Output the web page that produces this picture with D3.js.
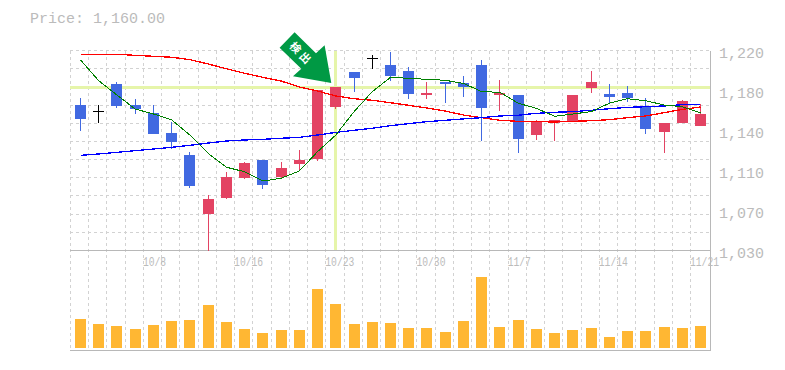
<!DOCTYPE html>
<html>
<head>
<meta charset="utf-8">
<script src="https://cdn.jsdelivr.net/npm/d3@7"></script>
<style>
  body { margin: 0; background: #fff; }
  text { font-family: "Liberation Mono", monospace; fill: #bbb; }
</style>
</head>
<body>
<div id="chart"></div>
<script>
var dates = ["10/1","10/2","10/3","10/4","10/8","10/9","10/10","10/11","10/15","10/16","10/17","10/18","10/21","10/22","10/23","10/24","10/25","10/28","10/29","10/30","10/31","11/1","11/5","11/6","11/7","11/8","11/11","11/12","11/13","11/14","11/15","11/18","11/19","11/20","11/21"];

var opens  = [1168.2,1162.2,1188.2,1168.2,1160.6,1141.6,1120.7,1064.7,1079.9,1098.9,1116,1099.8,1112.2,1116.9,1166.6,1199.6,1212.9,1206.2,1200.5,1177.7,1190.1,1189.1,1206.2,1177.7,1177.7,1139.7,1151.1,1152.1,1184.4,1178.7,1179.6,1166.3,1142.6,1151.1,1148.3];
var highs  = [1174.9,1167.8,1190.1,1173.9,1168.2,1152.1,1123.6,1082.7,1104.6,1114.1,1116,1114.1,1125.5,1182.5,1185.3,1199.6,1215.7,1218.6,1204.3,1190.1,1190.1,1195.8,1211,1192,1177.7,1154,1154,1177.7,1200.5,1188.2,1186.3,1174.9,1151.1,1173,1169.2];
var lows   = [1143.8,1150.9,1165.7,1160,1140.7,1126.7,1089.4,1030,1078.9,1097.9,1088.4,1097.9,1105.5,1115,1164.4,1180.6,1202.4,1191,1173.9,1173.9,1170.1,1175.8,1134,1162.5,1122.6,1135,1134,1152.1,1179.6,1169.2,1171,1140.7,1122.6,1151.1,1148.3];
var closes = [1154.9,1162.2,1167.6,1164.4,1140.7,1133.1,1091.3,1078.9,1099.8,1113.1,1092.2,1108.4,1116,1182.5,1185.3,1193.9,1212.9,1195.8,1178.7,1179.6,1188.2,1185.3,1165.4,1179.6,1135.9,1152.1,1154,1177.7,1190.1,1175.8,1174.9,1145.4,1151.1,1172,1160];

var maShort = [1211,1191.3,1177.7,1164.4,1159.7,1154,1139.7,1122.3,1109.1,1104.8,1096,1098.6,1105.5,1123.9,1139.7,1161.9,1180.9,1194.5,1193.6,1192.6,1191.7,1188.8,1180.9,1180.3,1169.9,1165.1,1157.5,1159.7,1161.9,1169.9,1174.2,1172.3,1168.2,1166.6,1160.9];
var maMid = [1216.4,1216.4,1216.4,1215.4,1214.5,1213.6,1211.3,1207.2,1202.7,1198.4,1194.5,1191,1185.3,1181.5,1176.8,1174.2,1172.7,1170.4,1167.9,1165.4,1162.5,1158.7,1156.2,1153.7,1152.7,1152.4,1152.1,1152.7,1153.3,1154.3,1156.2,1157.8,1160.9,1164.1,1166.3];
var maLong = [1120.4,1121.7,1123.3,1124.8,1126.4,1128,1129.9,1132.1,1134,1135,1135.6,1136.6,1137.5,1139.7,1142.2,1144.2,1146.1,1148.6,1150.5,1152.4,1153.7,1155,1156.2,1157.8,1158.5,1160.3,1161.3,1161.9,1163.2,1164.7,1166,1166.6,1167.3,1168.5,1168.9];

var volume = [29,24,22,19,23,27,28,43,26,19,15,18,18,59,44,24,26,25,20,20,16,27,71,21,28,19,15,18,20,11,17,17,21,20,22];

var priceTicks = [1220,1182,1144,1106,1068,1030];
var priceTickLabels = ["1,220","1,180","1,140","1,110","1,070","1,030"];
var dateTicks = ["10/8","10/16","10/23","10/30","11/7","11/14","11/21"];
var markDate = "10/23";
var markPrice = 1185.3;
var title = "Price: 1,160.00";

var width = 785, height = 370;
var plotLeft = 70, plotRight = 710, plotTop = 50.5, plotMid = 250.5, plotBottom = 350.5;

var svg = d3.select("#chart").append("svg")
    .attr("width", width)
    .attr("height", height)
    .style("display", "block");

var x = d3.scalePoint().domain(dates).range([80.5, 700.5]);
var y = d3.scaleLinear().domain([1030, 1220]).range([plotMid, plotTop]);
var yVol = d3.scaleLinear().domain([0, d3.max(volume)]).range([348, 277]);

// grid, 11 cells in the price panel, one line per candle
var grid = svg.append("g")
    .attr("stroke", "#d2d2d2")
    .attr("stroke-dasharray", "3,3")
    .attr("shape-rendering", "crispEdges");

grid.selectAll("line.h").data(d3.range(0, 11))
  .enter().append("line")
    .attr("class", "h")
    .attr("x1", plotLeft).attr("x2", plotRight)
    .attr("y1", function(d) { return Math.floor(plotTop + d * (plotMid - plotTop) / 11) + 0.5; })
    .attr("y2", function(d) { return Math.floor(plotTop + d * (plotMid - plotTop) / 11) + 0.5; });

grid.selectAll("line.v").data(dates)
  .enter().append("line")
    .attr("class", "v")
    .attr("x1", function(d) { return Math.floor(x(d) - 10) + 0.5; })
    .attr("x2", function(d) { return Math.floor(x(d) - 10) + 0.5; })
    .attr("y1", plotTop).attr("y2", plotBottom);

var frame = svg.append("g")
    .attr("stroke", "#b8b8b8")
    .attr("stroke-width", 1)
    .attr("shape-rendering", "crispEdges");
frame.append("line").attr("x1", plotLeft).attr("x2", plotRight).attr("y1", plotMid).attr("y2", plotMid);
frame.append("line").attr("x1", plotLeft).attr("x2", plotRight).attr("y1", plotBottom).attr("y2", plotBottom);
frame.append("line").attr("x1", plotRight).attr("x2", plotRight).attr("y1", plotTop).attr("y2", plotBottom);

// highlighted price and date
svg.append("line")
    .attr("x1", plotLeft).attr("x2", plotRight)
    .attr("y1", y(markPrice)).attr("y2", y(markPrice))
    .attr("stroke", "#e6f5aa").attr("stroke-width", 3)
    .attr("shape-rendering", "crispEdges");
svg.append("line")
    .attr("x1", Math.floor(x(markDate)) + 0.5).attr("x2", Math.floor(x(markDate)) + 0.5)
    .attr("y1", plotTop).attr("y2", plotMid - 1)
    .attr("stroke", "#e6f5aa").attr("stroke-width", 3)
    .attr("shape-rendering", "crispEdges");

// volume
svg.append("g").selectAll("rect").data(volume)
  .enter().append("rect")
    .attr("x", function(d, i) { return Math.floor(x(dates[i])) - 5; })
    .attr("width", 11)
    .attr("y", function(d) { return yVol(d); })
    .attr("height", function(d) { return yVol(0) - yVol(d); })
    .attr("fill", "#ffb733")
    .attr("shape-rendering", "crispEdges");

function candleColor(i) {
    if (opens[i] === closes[i]) return "#000";
    return closes[i] > opens[i] ? "#e34363" : "#4169e1";
}

var candles = svg.append("g")
    .attr("shape-rendering", "crispEdges");

candles.selectAll("line").data(dates)
  .enter().append("line")
    .attr("x1", function(d) { return Math.floor(x(d)) + 0.5; })
    .attr("x2", function(d) { return Math.floor(x(d)) + 0.5; })
    .attr("y1", function(d, i) { return y(highs[i]); })
    .attr("y2", function(d, i) { return y(lows[i]); })
    .attr("stroke", function(d, i) { return candleColor(i); })
    .attr("stroke-width", 1);

candles.selectAll("rect").data(dates)
  .enter().append("rect")
    .attr("x", function(d) { return Math.floor(x(d)) - 5; })
    .attr("width", 11)
    .attr("y", function(d, i) { return y(Math.max(opens[i], closes[i])); })
    .attr("height", function(d, i) { return Math.max(1, Math.abs(y(opens[i]) - y(closes[i]))); })
    .attr("fill", function(d, i) { return candleColor(i); });

// moving averages
var line = d3.line()
    .x(function(d, i) { return x(dates[i]); })
    .y(function(d) { return y(d); });

svg.append("path").attr("class", "red line")
    .attr("d", line(maMid))
    .attr("fill", "none").attr("stroke", "#ff0000").attr("stroke-width", 1.3)
    .attr("shape-rendering", "crispEdges");
svg.append("path").attr("class", "blue line")
    .attr("d", line(maLong))
    .attr("fill", "none").attr("stroke", "#0000ff").attr("stroke-width", 1.3)
    .attr("shape-rendering", "crispEdges");
svg.append("path").attr("class", "green line")
    .attr("d", line(maShort))
    .attr("fill", "none").attr("stroke", "#008000").attr("stroke-width", 1)
    .attr("shape-rendering", "crispEdges");

// signal arrow, pointing at the highlighted candle
var arrowX = x(markDate) - 4.5;
var arrowY = y(markPrice) - 4;
var arrow = svg.append("g")
    .attr("transform", "translate(" + arrowX + "," + arrowY + ")");
arrow.append("path")
    .attr("d", "M-51.7,-35.4L-36.7,-50.7L-15.3,-29.7L-6.7,-37.7L0,0L-38.3,-6.7L-30,-14.4Z")
    .attr("fill", "#009944");
arrow.append("text")
    .attr("transform", "translate(-30,-29) rotate(45)")
    .attr("text-anchor", "middle")
    .attr("dy", "0.35em")
    .style("font-family", "'Noto Sans CJK JP'")
    .style("font-size", "11px")
    .style("font-weight", "bold")
    .style("fill", "#fff")
    .style("letter-spacing", "3px")
    .text("検出");

// labels
svg.append("text")
    .attr("x", 30).attr("y", 23)
    .style("font-size", "15px")
    .text(title);

svg.append("g").selectAll("text").data(priceTicks)
  .enter().append("text")
    .attr("x", 719)
    .attr("y", function(d) { return y(d) + 7; })
    .style("font-size", "15px")
    .text(function(d, i) { return priceTickLabels[i]; });

svg.append("g").selectAll("text").data(dateTicks)
  .enter().append("text")
    .attr("x", function(d) { return x(d) - 10.5; })
    .attr("y", 266)
    .attr("textLength", function(d) { return d.length * 5.8; })
    .attr("lengthAdjust", "spacingAndGlyphs")
    .style("font-size", "12px")
    .text(function(d) { return d; });
</script>
</body>
</html>
